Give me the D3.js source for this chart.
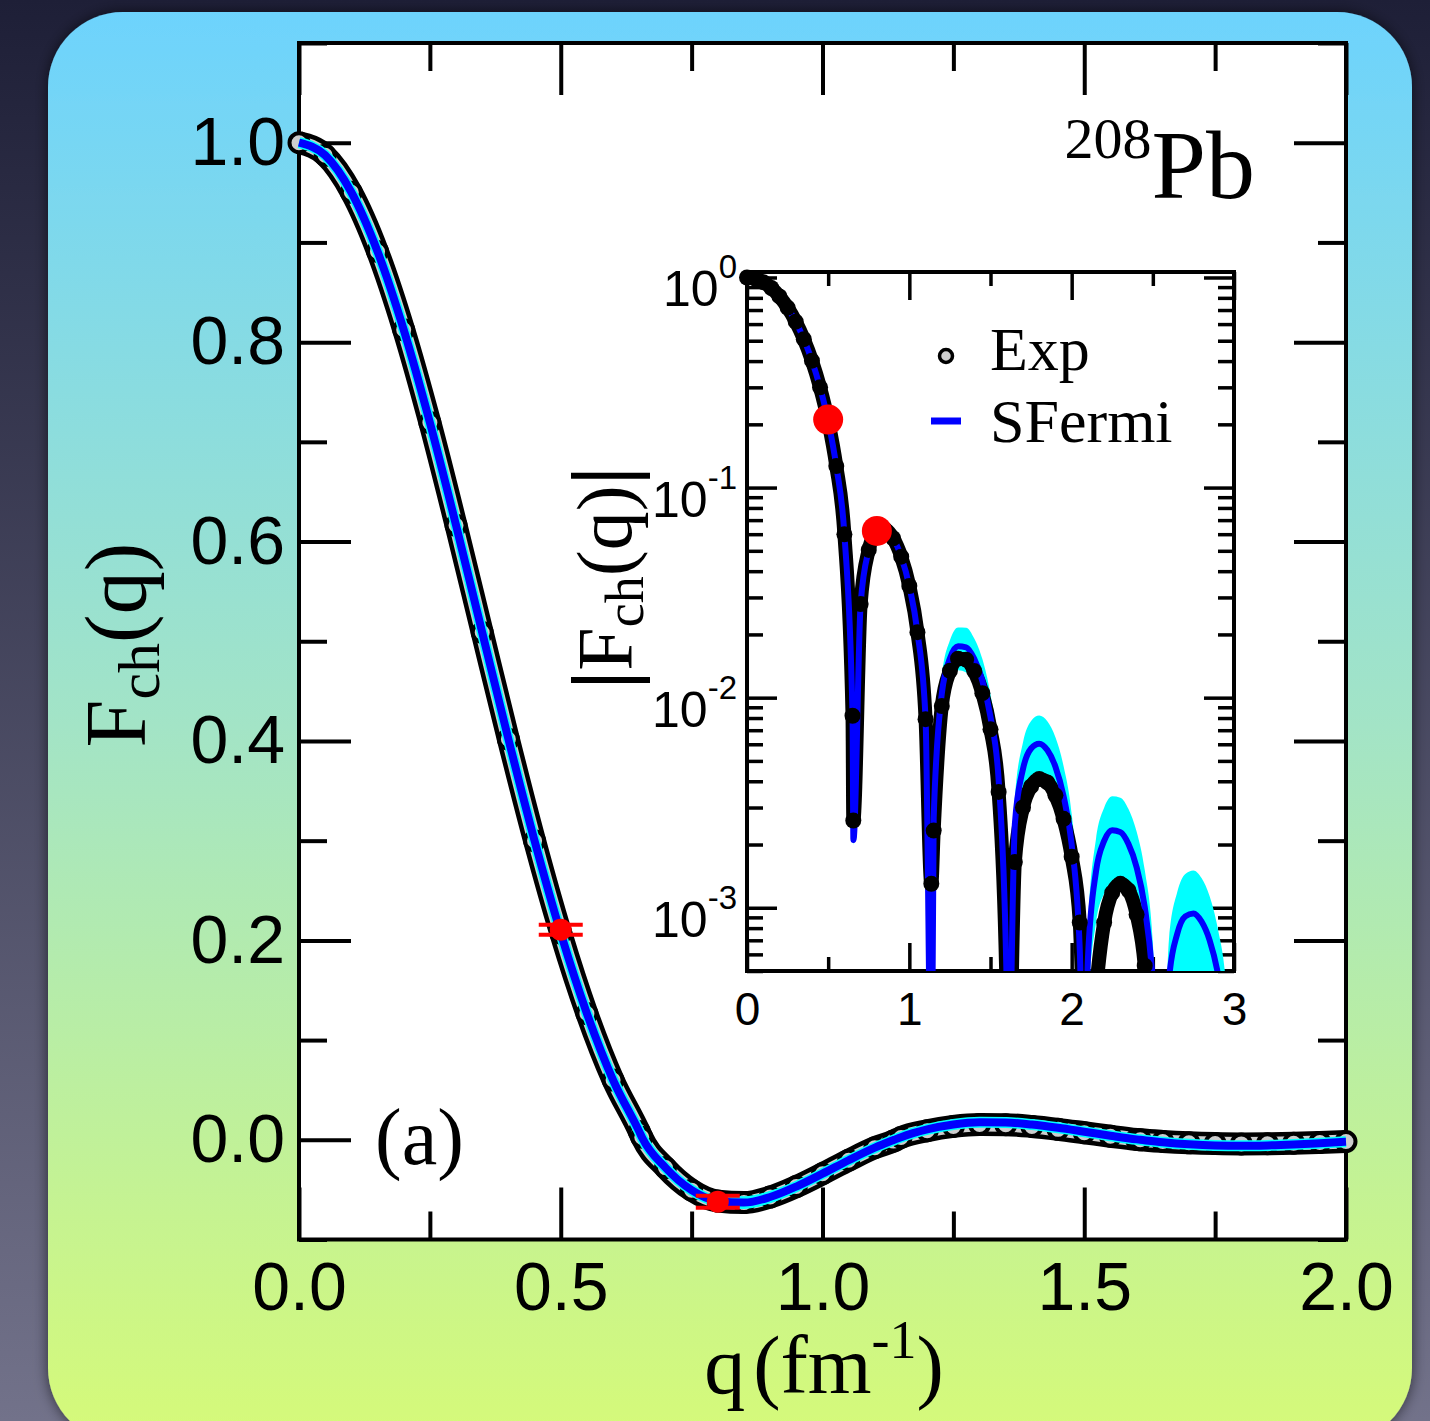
<!DOCTYPE html>
<html><head><meta charset="utf-8">
<script src="https://cdn.jsdelivr.net/npm/d3@7"></script>
<style>html,body{margin:0;padding:0;background:#222238;} svg{display:block}</style>
</head><body>
<svg id="chart" width="1430" height="1421"></svg>
<script>
// ---------------- DATA ----------------
// SFermi (symmetrized Fermi) charge form factor, signed
const sfQ = [0,0.05,0.1,0.15,0.2,0.25,0.3,0.35,0.4,0.45,0.5,0.55,0.6,0.65,0.6555,
  0.7,0.75,0.8,0.85,0.9,0.95,1.0,1.05,1.1,1.137,
  1.15,1.2,1.25,1.3,1.35,1.4,1.45,1.5,1.55,1.6,1.607,
  1.65,1.7,1.75,1.8,1.85,1.9,1.95,2.0,2.05,2.077,
  2.1,2.15,2.2,2.25,2.3,2.35,2.4,2.45,2.5,2.545,
  2.55,2.6,2.65,2.7,2.75,2.8,2.85,2.9,2.95,3.0];
const sfF = [1.0,0.9874,0.9503,0.8909,0.8124,0.7193,0.6163,0.5088,0.4018,0.2999,0.2072,0.1266,0.0599,0.0082,0.0021,
  -0.0279,-0.0505,-0.0615,-0.0630,-0.0574,-0.0469,-0.0340,-0.0205,-0.0079,0,
  0.00267,0.01044,0.01536,0.01755,0.01736,0.01531,0.01202,0.00809,0.00408,0.00042,0,
  -0.00250,-0.00457,-0.00573,-0.00604,-0.00563,-0.00469,-0.00340,-0.00200,-0.00063,0,
  0.00057,0.00149,0.00208,0.00234,0.00229,0.00201,0.00156,0.00101,0.00045,0,
  -0.00005,-0.00046,-0.00075,-0.00091,-0.00094,-0.00086,-0.00070,-0.00049,-0.00027,-0.00005];
// relative half-width of the SFermi uncertainty band
const sfBandRel = [0.002,0.002,0.003,0.004,0.005,0.007,0.009,0.012,0.015,0.02,0.025,0.03,0.04,0.05,0.05,
  0.07,0.08,0.09,0.10,0.11,0.12,0.13,0.14,0.16,0.18,
  0.19,0.21,0.22,0.23,0.24,0.25,0.27,0.28,0.30,0.31,0.31,
  0.32,0.34,0.35,0.36,0.37,0.38,0.39,0.40,0.41,0.42,
  0.42,0.43,0.44,0.45,0.46,0.47,0.48,0.50,0.52,0.54,
  0.54,0.56,0.58,0.59,0.60,0.61,0.62,0.63,0.64,0.65];
// Experimental form factor, signed
const expQ = [0,0.05,0.1,0.15,0.2,0.25,0.3,0.35,0.4,0.45,0.5,0.55,0.6,0.65,0.6548,
  0.7,0.75,0.8,0.85,0.9,0.95,1.0,1.05,1.1,1.1355,
  1.15,1.2,1.25,1.3,1.35,1.4,1.45,1.5,1.55,1.6,1.607,
  1.65,1.7,1.75,1.8,1.85,1.9,1.95,2.0,2.05,2.095,
  2.1,2.15,2.2,2.25,2.3,2.35,2.4,2.45,2.5,2.51];
const expF = [1.0,0.9874,0.9503,0.8909,0.8124,0.7193,0.6163,0.5088,0.4018,0.2999,0.2072,0.1266,0.0599,0.0082,0.0026,
  -0.0279,-0.0505,-0.0615,-0.0630,-0.0574,-0.0469,-0.0340,-0.0205,-0.0079,-0.0013,
  0.00233,0.00912,0.01342,0.01533,0.01516,0.01338,0.01050,0.00707,0.00356,0.00037,0,
  -0.00165,-0.00300,-0.00378,-0.00410,-0.00395,-0.00343,-0.00265,-0.00175,-0.00085,0,
  0.00005,0.00040,0.00085,0.00118,0.00130,0.00121,0.00093,0.00053,0.00012,0];
// highlighted points (red)
const redQ = [0.5, 0.8];
const redF = [0.2106, -0.0622];
const redErr = [0.005, 0.006];
// ticks / labels
const mainXTicks = [0,0.5,1,1.5,2];
const mainXTickLabels = ["0.0","0.5","1.0","1.5","2.0"];
const mainXMinor = [0.25,0.75,1.25,1.75];
const mainYTicks = [0,0.2,0.4,0.6,0.8,1.0];
const mainYTickLabels = ["0.0","0.2","0.4","0.6","0.8","1.0"];
const mainYMinor = [-0.1,0.1,0.3,0.5,0.7,0.9,1.1];
const insetXTicks = [0,1,2,3];
const insetXTickLabels = ["0","1","2","3"];
const insetXMinor = [0.5,1.5,2.5];
const insetYTicks = [1,0.1,0.01,0.001];
const insetYTickExps = ["0","-1","-2","-3"];
const legendLabels = ["Exp","SFermi"];

// ---------------- DRAW ----------------
const SANS = "'Liberation Sans', Arial, Helvetica, sans-serif";
const SERIF = "'Liberation Serif', 'Times New Roman', Times, serif";
const svg = d3.select("#chart");
const defs = svg.append("defs");

const bg = defs.append("linearGradient").attr("id","bg").attr("x1",0).attr("y1",0).attr("x2",0).attr("y2",1);
bg.append("stop").attr("offset","0%").attr("stop-color","#1e1f37");
bg.append("stop").attr("offset","100%").attr("stop-color","#72728a");
const pg = defs.append("linearGradient").attr("id","panel").attr("x1",0).attr("y1",0).attr("x2",0).attr("y2",1);
pg.append("stop").attr("offset","0%").attr("stop-color","#6dd3fd");
pg.append("stop").attr("offset","50%").attr("stop-color","#a3e4c6");
pg.append("stop").attr("offset","100%").attr("stop-color","#d6fa78");
const sh = defs.append("filter").attr("id","shadow").attr("x","-10%").attr("y","-10%").attr("width","120%").attr("height","120%");
sh.append("feDropShadow").attr("dx",0).attr("dy",0).attr("stdDeviation",7).attr("flood-color","#000").attr("flood-opacity",0.6);

svg.append("rect").attr("width",1430).attr("height",1421).attr("fill","url(#bg)");
svg.append("rect").attr("x",48).attr("y",12).attr("width",1364).attr("height",1431).attr("rx",75).attr("ry",75)
  .attr("fill","url(#panel)").attr("filter","url(#shadow)");

// ===== main plot =====
const mx = d3.scaleLinear([0,2],[299,1346]);
const my = d3.scaleLinear([-0.1,1.1],[1239.5,43]);
const MX0 = mx.range()[0], MX1 = mx.range()[1], MY0 = my.range()[1], MY1 = my.range()[0];
svg.append("rect").attr("x",MX0).attr("y",MY0).attr("width",MX1-MX0).attr("height",MY1-MY0).attr("fill","#fff");

function cleanAxis(g, sw){
  g.select(".domain").remove();
  g.selectAll(".tick line").attr("stroke","#000").attr("stroke-width",sw);
  g.selectAll(".tick text").attr("fill","#000").attr("font-family",SANS);
}
function lbl(arr){ return (d,i)=>arr[i]; }

let g;
g = svg.append("g").attr("transform",`translate(0,${MY1})`)
  .call(d3.axisBottom(mx).tickValues(mainXTicks).tickSize(-52).tickSizeOuter(0).tickPadding(22).tickFormat(lbl(mainXTickLabels)));
cleanAxis(g,4); g.selectAll(".tick text").attr("font-size",68);
g = svg.append("g").attr("transform",`translate(0,${MY1})`)
  .call(d3.axisBottom(mx).tickValues(mainXMinor).tickSize(-28).tickSizeOuter(0).tickFormat(()=>""));
cleanAxis(g,4);
g = svg.append("g").attr("transform",`translate(0,${MY0})`)
  .call(d3.axisTop(mx).tickValues(mainXTicks).tickSize(-52).tickSizeOuter(0).tickFormat(()=>""));
cleanAxis(g,4);
g = svg.append("g").attr("transform",`translate(0,${MY0})`)
  .call(d3.axisTop(mx).tickValues(mainXMinor).tickSize(-28).tickSizeOuter(0).tickFormat(()=>""));
cleanAxis(g,4);
g = svg.append("g").attr("transform",`translate(${MX0},0)`)
  .call(d3.axisLeft(my).tickValues(mainYTicks).tickSize(-52).tickSizeOuter(0).tickPadding(14).tickFormat(lbl(mainYTickLabels)));
cleanAxis(g,4); g.selectAll(".tick text").attr("font-size",68);
g = svg.append("g").attr("transform",`translate(${MX0},0)`)
  .call(d3.axisLeft(my).tickValues(mainYMinor).tickSize(-28).tickSizeOuter(0).tickFormat(()=>""));
cleanAxis(g,4);
g = svg.append("g").attr("transform",`translate(${MX1},0)`)
  .call(d3.axisRight(my).tickValues(mainYTicks).tickSize(-52).tickSizeOuter(0).tickFormat(()=>""));
cleanAxis(g,4);
g = svg.append("g").attr("transform",`translate(${MX1},0)`)
  .call(d3.axisRight(my).tickValues(mainYMinor).tickSize(-28).tickSizeOuter(0).tickFormat(()=>""));
cleanAxis(g,4);

svg.append("rect").attr("x",MX0).attr("y",MY0).attr("width",MX1-MX0).attr("height",MY1-MY0)
  .attr("fill","none").attr("stroke","#000").attr("stroke-width",4);

const sfData = sfQ.map((q,i)=>({q, f:sfF[i], r:sfBandRel[i]}));
const expData = expQ.map((q,i)=>({q, f:expF[i]}));
const sfMain = sfData.filter(d=>d.q<=2.0001);
const expMain = expData.filter(d=>d.q<=2.0001);

const lineMain = d3.line().x(d=>mx(d.q)).y(d=>my(d.f)).curve(d3.curveMonotoneX);
// experimental: chain of open circles
svg.append("path").datum(expMain).attr("d",lineMain).attr("fill","none").attr("stroke","#000").attr("stroke-width",23);
svg.append("path").datum(expMain).attr("d",lineMain).attr("fill","none").attr("stroke","#cdcdcd").attr("stroke-width",14);
svg.append("g").selectAll("circle").data(expMain).join("circle")
  .attr("cx",d=>mx(d.q)).attr("cy",d=>my(d.f)).attr("r",9.5)
  .attr("fill","#cdcdcd").attr("stroke","#000").attr("stroke-width",4);
// SFermi band + line
const areaMain = d3.area().x(d=>mx(d.q)).y0(d=>my(d.f*(1-d.r))).y1(d=>my(d.f*(1+d.r))).curve(d3.curveMonotoneX);
svg.append("path").datum(sfMain).attr("d",areaMain).attr("fill","#00ffff");
svg.append("path").datum(sfMain).attr("d",lineMain).attr("fill","none").attr("stroke","#00ffff").attr("stroke-width",11);
svg.append("path").datum(sfMain).attr("d",lineMain).attr("fill","none").attr("stroke","#0000ff").attr("stroke-width",8);
// red points with error bars
const redData = redQ.map((q,i)=>({q, f:redF[i], e:redErr[i]}));
const rg = svg.append("g");
redData.forEach(d=>{
  const cx = mx(d.q);
  [d.f-d.e, d.f+d.e].forEach(v=>{
    rg.append("line").attr("x1",cx-22).attr("x2",cx+22).attr("y1",my(v)).attr("y2",my(v)).attr("stroke","#ff0000").attr("stroke-width",4);
  });
  rg.append("line").attr("x1",cx).attr("x2",cx).attr("y1",my(d.f-d.e)).attr("y2",my(d.f+d.e)).attr("stroke","#ff0000").attr("stroke-width",4);
  rg.append("circle").attr("cx",cx).attr("cy",my(d.f)).attr("r",11).attr("fill","#ff0000");
});

// main texts
svg.append("text").attr("x",375).attr("y",1164).attr("font-family",SERIF).attr("font-size",80).text("(a)");
const pb = svg.append("text").attr("x",1255).attr("y",198).attr("text-anchor","end").attr("font-family",SERIF);
pb.append("tspan").attr("font-size",58).attr("dy",-40).text("208");
pb.append("tspan").attr("font-size",98).attr("dy",40).text("Pb");
const yt = svg.append("text").attr("transform","translate(145,645) rotate(-90)").attr("text-anchor","middle")
  .attr("font-family",SERIF).attr("font-size",86);
yt.append("tspan").text("F");
yt.append("tspan").attr("font-size",60).attr("dy",14).text("ch");
yt.append("tspan").attr("dy",-14).text("(q)");
const xt = svg.append("text").attr("x",824).attr("y",1393).attr("text-anchor","middle").attr("font-family",SERIF).attr("font-size",82);
xt.append("tspan").text("q");
xt.append("tspan").attr("dx",8).text("(fm");
xt.append("tspan").attr("font-size",54).attr("dy",-35).text("-1");
xt.append("tspan").attr("dy",35).text(")");

// ===== inset =====
const ix = d3.scaleLinear([0,3],[747,1234]);
const iy = d3.scaleLog([5e-4, 1.062],[971,272]);
const IX0 = 747, IX1 = 1234, IY0 = 272, IY1 = 971;
svg.append("rect").attr("x",IX0).attr("y",IY0).attr("width",IX1-IX0).attr("height",IY1-IY0).attr("fill","#fff");

const decMinor = [];
[1e-4,1e-3,1e-2,1e-1].forEach(b=>{ for(let k=2;k<=9;k++){ const v=b*k; if(v>=5e-4 && v<=1.062) decMinor.push(v);} });

g = svg.append("g").attr("transform",`translate(0,${IY1})`)
  .call(d3.axisBottom(ix).tickValues(insetXTicks).tickSize(-28).tickSizeOuter(0).tickPadding(21).tickFormat(lbl(insetXTickLabels)));
cleanAxis(g,3.5); g.selectAll(".tick text").attr("font-size",46);
g = svg.append("g").attr("transform",`translate(0,${IY1})`)
  .call(d3.axisBottom(ix).tickValues(insetXMinor).tickSize(-14).tickSizeOuter(0).tickFormat(()=>""));
cleanAxis(g,3.5);
g = svg.append("g").attr("transform",`translate(0,${IY0})`)
  .call(d3.axisTop(ix).tickValues(insetXTicks).tickSize(-28).tickSizeOuter(0).tickFormat(()=>""));
cleanAxis(g,3.5);
g = svg.append("g").attr("transform",`translate(0,${IY0})`)
  .call(d3.axisTop(ix).tickValues(insetXMinor).tickSize(-14).tickSizeOuter(0).tickFormat(()=>""));
cleanAxis(g,3.5);
g = svg.append("g").attr("transform",`translate(${IX0},0)`)
  .call(d3.axisLeft(iy).tickValues(insetYTicks).tickSize(-30).tickSizeOuter(0).tickFormat(()=>""));
cleanAxis(g,3.5);
g = svg.append("g").attr("transform",`translate(${IX0},0)`)
  .call(d3.axisLeft(iy).tickValues(decMinor).tickSize(-16).tickSizeOuter(0).tickFormat(()=>""));
cleanAxis(g,3.5);
g = svg.append("g").attr("transform",`translate(${IX1},0)`)
  .call(d3.axisRight(iy).tickValues(insetYTicks).tickSize(-30).tickSizeOuter(0).tickFormat(()=>""));
cleanAxis(g,3.5);
g = svg.append("g").attr("transform",`translate(${IX1},0)`)
  .call(d3.axisRight(iy).tickValues(decMinor).tickSize(-16).tickSizeOuter(0).tickFormat(()=>""));
cleanAxis(g,3.5);
insetYTicks.forEach((v,i)=>{
  const t = svg.append("text").attr("x",737).attr("y",iy(v)+29).attr("text-anchor","end")
    .attr("font-family",SANS).attr("font-size",50);
  t.append("tspan").text("10");
  t.append("tspan").attr("font-size",33).attr("dy",-28).text(insetYTickExps[i]);
});
svg.append("rect").attr("x",IX0).attr("y",IY0).attr("width",IX1-IX0).attr("height",IY1-IY0)
  .attr("fill","none").attr("stroke","#000").attr("stroke-width",4);

defs.append("clipPath").attr("id","iclip").append("rect").attr("x",IX0).attr("y",IY0).attr("width",IX1-IX0).attr("height",IY1-IY0);
defs.append("clipPath").attr("id","iclip2").append("rect").attr("x",IX0-12).attr("y",IY0-12).attr("width",IX1-IX0+24).attr("height",IY1-IY0+12);
const FLOOR = 1e-4;
const lg = v => iy(Math.max(Math.abs(v), FLOOR));
const ig = svg.append("g").attr("clip-path","url(#iclip)");
const areaIn = d3.area().x(d=>ix(d.q)).y0(d=>lg(d.f*(1-d.r))).y1(d=>lg(d.f*(1+d.r))).curve(d3.curveMonotoneX);
const lineIn = d3.line().x(d=>ix(d.q)).y(d=>lg(d.f)).curve(d3.curveMonotoneX);
ig.append("path").datum(sfData).attr("d",areaIn).attr("fill","#00ffff");
ig.append("path").datum(expData).attr("d",lineIn).attr("fill","none").attr("stroke","#000").attr("stroke-width",14);
ig.append("path").datum(sfData).attr("d",lineIn).attr("fill","none").attr("stroke","#0000ff").attr("stroke-width",6);
const ig2 = svg.append("g").attr("clip-path","url(#iclip2)");
ig2.selectAll("circle").data(expData.filter(d=>Math.abs(d.f)>=5e-4)).join("circle")
  .attr("cx",d=>ix(d.q)).attr("cy",d=>lg(d.f)).attr("r",8).attr("fill","#000");
redData.forEach(d=>{
  svg.append("circle").attr("cx",ix(d.q)).attr("cy",lg(d.f)).attr("r",15).attr("fill","#ff0000");
});

// legend
svg.append("circle").attr("cx",946).attr("cy",356).attr("r",6.5).attr("fill","#d0d0d0").attr("stroke","#000").attr("stroke-width",3.5);
svg.append("line").attr("x1",931).attr("x2",961).attr("y1",421).attr("y2",421).attr("stroke","#0000ff").attr("stroke-width",7);
svg.append("text").attr("x",990).attr("y",370).attr("font-family",SERIF).attr("font-size",62).text(legendLabels[0]);
svg.append("text").attr("x",990).attr("y",442).attr("font-family",SERIF).attr("font-size",62).text(legendLabels[1]);

// inset y label
const il = svg.append("text").attr("transform","translate(631,578) rotate(-90)").attr("text-anchor","middle")
  .attr("font-family",SERIF).attr("font-size",78);
il.append("tspan").attr("font-weight","bold").attr("font-size",86).text("|");
il.append("tspan").text("F");
il.append("tspan").attr("font-size",54).attr("dy",12).text("ch");
il.append("tspan").attr("dy",-12).text("(q)");
il.append("tspan").attr("font-weight","bold").attr("font-size",86).text("|");
</script>
</body></html>
